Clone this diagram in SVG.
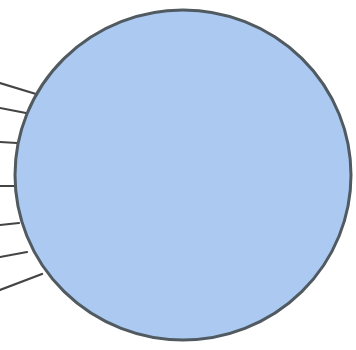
<svg xmlns="http://www.w3.org/2000/svg" width="356" height="350" viewBox="0 0 356 350">
<style>
.ln{stroke:#444;stroke-width:2.2;fill:none;stroke-linecap:round}
</style>
<rect width="356" height="350" fill="#ffffff"/>
<g id="connectors">
<line class="ln" x1="0" y1="83" x2="36" y2="94"/>
<line class="ln" x1="0" y1="108" x2="26" y2="113"/>
<line class="ln" x1="0" y1="142" x2="17" y2="143"/>
<line class="ln" x1="0" y1="186" x2="15" y2="186"/>
<line class="ln" x1="0" y1="225" x2="19" y2="223"/>
<line class="ln" x1="0" y1="257" x2="27" y2="252"/>
<line class="ln" x1="0" y1="290" x2="42" y2="274"/>
</g>
<g id="circle">
<ellipse cx="183" cy="175" rx="168" ry="165" fill="#abc9f1" stroke="#505a60" stroke-width="3"/>
</g>
</svg>
